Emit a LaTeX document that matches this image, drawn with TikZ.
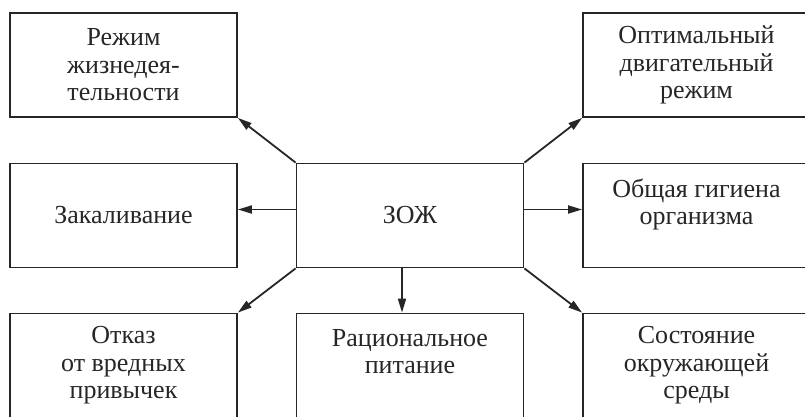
\documentclass[tikz,border=0pt]{standalone}
\usepackage{fontspec}
\setmainfont{Liberation Serif}
\usepackage{tikz}
\usetikzlibrary{positioning,arrows.meta}

\begin{document}
\begin{tikzpicture}[x=1pt, y=-1pt, font=\fontsize{26}{27.5}\selectfont,
  box/.style={draw=black!85, line width=1.8pt, minimum width=227pt, minimum height=104pt,
    inner sep=0pt, align=center, text=black!85},
  arr/.style={draw=black!85, line width=1.8pt, -{Triangle[length=14pt, width=8pt]}}]
  \useasboundingbox (0,0) rectangle (805,417);
  \node[box] (zozh) at (410,215.5) {ЗОЖ};
  \node[box] (rezhim) at (123.5,65) {Режим\\жизнедея-\\тельности};
  \node[box] (zakal) at (123.5,215.5) {Закаливание};
  \node[box] (otkaz) at (123.5,365.5) {Отказ\\от вредных\\привычек};
  \node[box] (optim) at (696.5,65) {Оптимальный\\двигательный\\режим};
  \node[box, text depth=28pt] (gigiena) at (696.5,215.5) {Общая гигиена\\организма};
  \node[box, text depth=28pt] (racion) at (410,365.5) {Рациональное\\питание};
  \node[box] (sreda) at (696.5,365.5) {Состояние\\окружающей\\среды};
  \draw[arr] (zozh.north west) -- (rezhim.south east);
  \draw[arr] ([yshift=6pt]zozh.west) -- ([yshift=6pt]zakal.east);
  \draw[arr] (zozh.south west) -- (otkaz.north east);
  \draw[arr] ([xshift=-8pt]zozh.south) -- ([xshift=-8pt]racion.north);
  \draw[arr] (zozh.south east) -- (sreda.north west);
  \draw[arr] ([yshift=6pt]zozh.east) -- ([yshift=6pt]gigiena.west);
  \draw[arr] (zozh.north east) -- (optim.south west);
\end{tikzpicture}
\end{document}
